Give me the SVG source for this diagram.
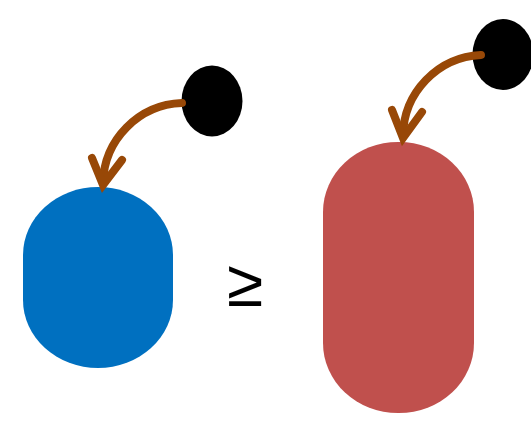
<svg xmlns="http://www.w3.org/2000/svg" width="531" height="422" viewBox="0 0 531 422">
  <style>
    .link { fill: none; stroke: #984807; stroke-width: 8; stroke-linecap: round; }
    .head { fill: none; stroke: #984807; stroke-width: 8; stroke-linecap: round; stroke-linejoin: miter; }
    .dot { fill: #000000; }
    .rel { font-family: "Liberation Sans", "DejaVu Sans", sans-serif; font-size: 66px; fill: #000000; }
  </style>
  <rect width="531" height="422" fill="#ffffff"/>

  <!-- left pair -->
  <g id="small-body">
    <rect x="23" y="187" width="150" height="181" rx="75" ry="68" fill="#0070C0"/>
  </g>
  <g id="small-source">
    <ellipse class="dot" cx="212" cy="101" rx="30.5" ry="35.5"/>
  </g>

  <!-- relation sign -->
  <g id="relation">
    <text class="rel" x="245" y="306" text-anchor="middle">≥</text>
  </g>

  <!-- right pair -->
  <g id="large-body">
    <rect x="323" y="142" width="151" height="271" rx="75" ry="70" fill="#C0504D"/>
  </g>
  <g id="large-source">
    <ellipse class="dot" cx="503" cy="54.5" rx="30.5" ry="35.5"/>
  </g>

  <!-- curved connectors with open chevron heads -->
  <g id="connectors">
    <path class="link" d="M182,103 A82,82 0 0 0 103,183"/>
    <path class="head" d="M92,158 L103,185 L122,160"/>
    <path class="link" d="M481,55 A82,82 0 0 0 403,136"/>
    <path class="head" d="M392,110 L403,138 L422,112"/>
  </g>
</svg>
